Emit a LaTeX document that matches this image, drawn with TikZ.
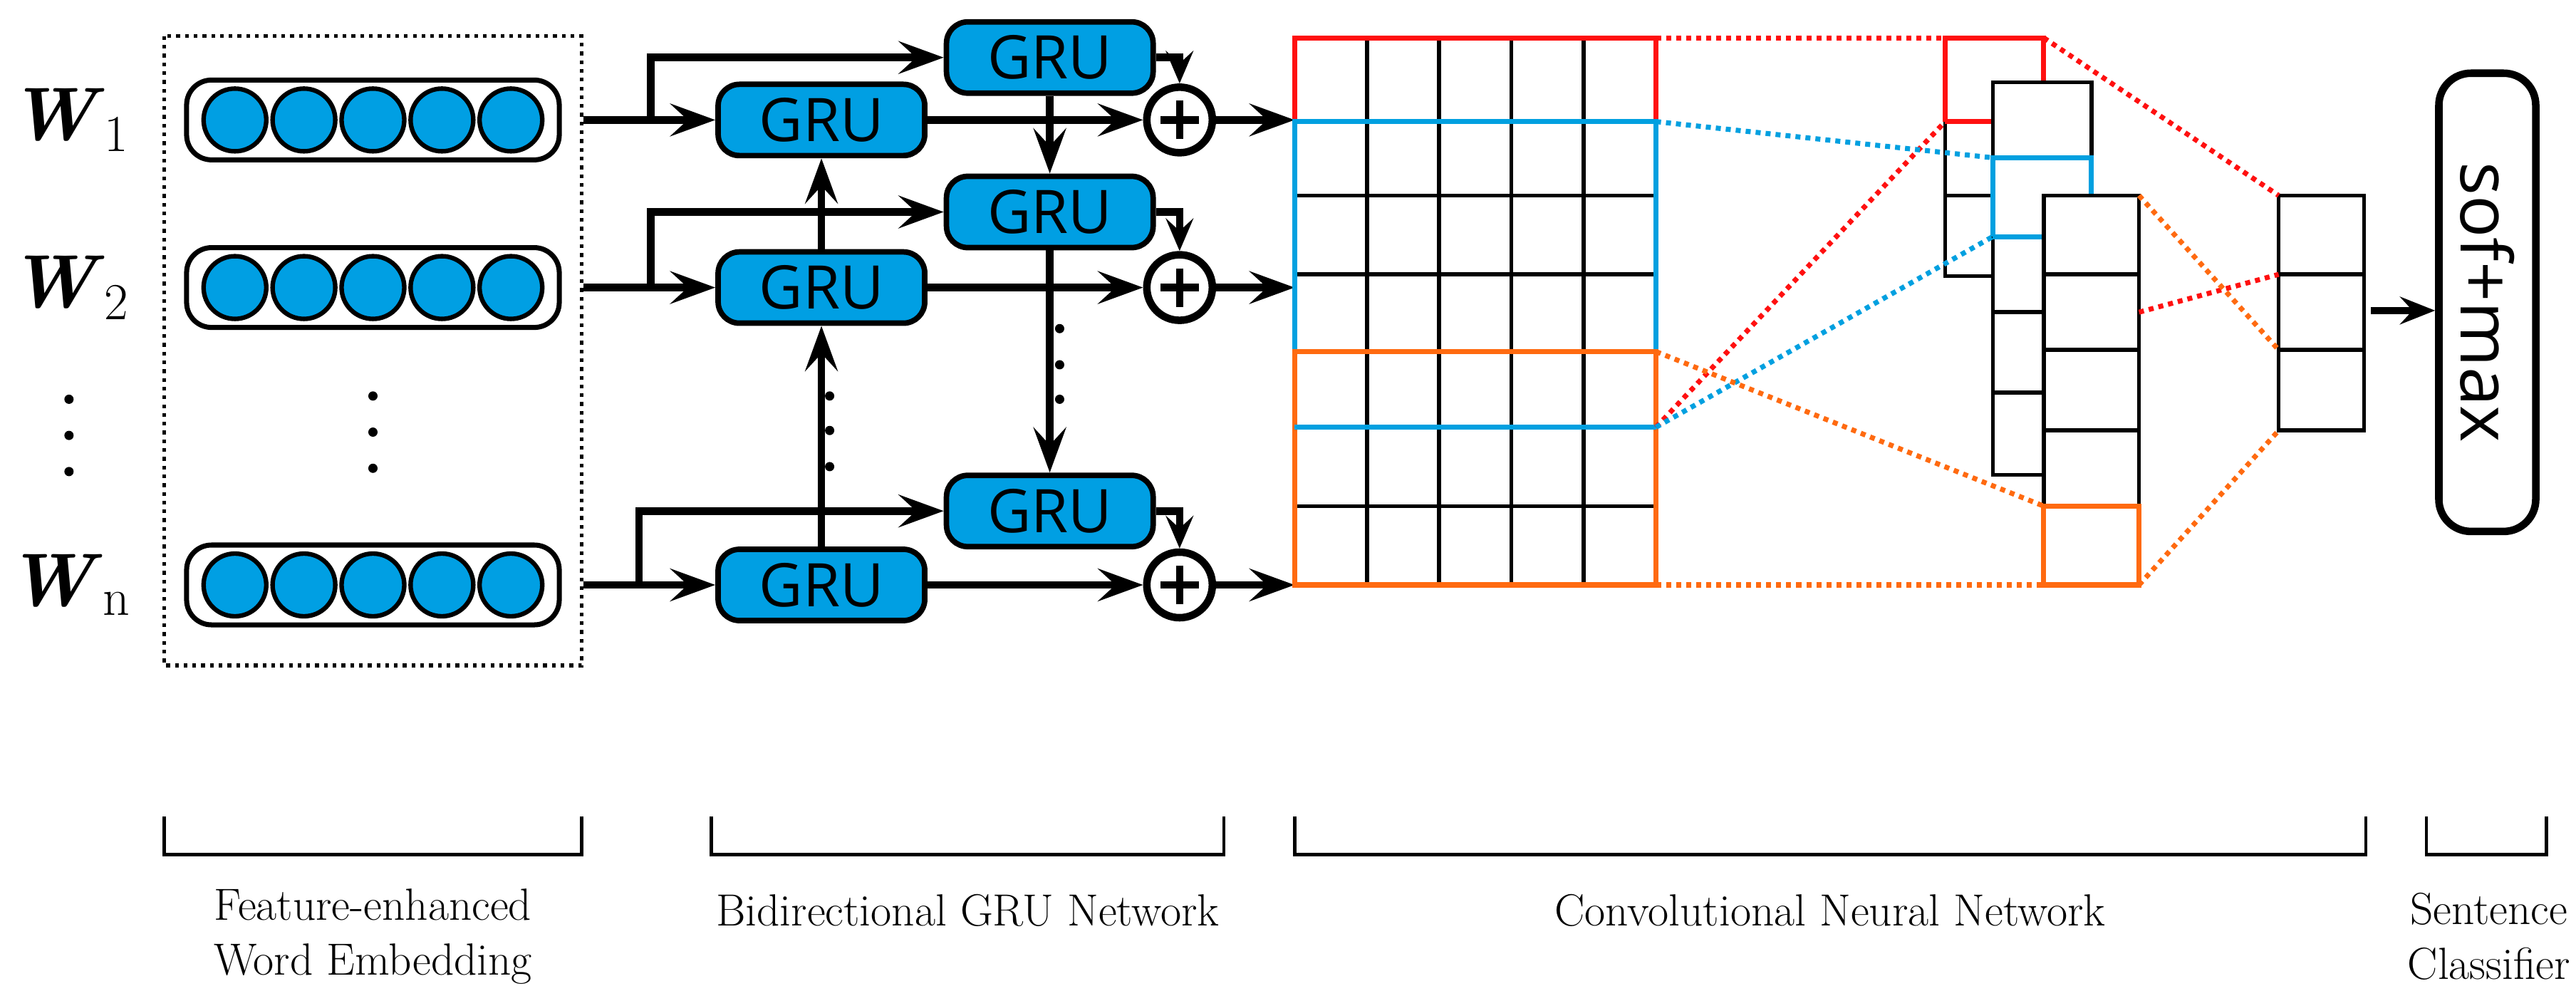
\documentclass[tikz,border=0pt]{standalone}
\usepackage{fontspec}
\newfontfamily\sansf{Open Sans}
\usetikzlibrary{arrows.meta}
\definecolor{cy}{HTML}{009FE3}
\definecolor{rd}{HTML}{FF1010}
\definecolor{bl}{HTML}{00A0E0}
\definecolor{og}{HTML}{FF6A10}
\begin{document}
\begin{tikzpicture}[x=0.02306cm,y=-0.02306cm,
 gru/.style={draw,line width=2.2pt,fill=cy,rounded corners=0.3cm,minimum width=2.9cm,minimum height=1cm,inner sep=0,font=\sansf\fontsize{24}{24}\selectfont},
 arr/.style={line width=3pt,-{Stealth[length=18pt,width=13pt,inset=7pt]}},
 arrs/.style={line width=3pt,-{Stealth[length=13pt,width=11pt,inset=5pt]}},
 pls/.style={circle,draw,line width=3pt,minimum size=0.92cm,inner sep=0,
   path picture={\draw[line width=3pt] ([xshift=-0.27cm]path picture bounding box.center) -- ([xshift=0.27cm]path picture bounding box.center);
   \draw[line width=3pt] ([yshift=-0.27cm]path picture bounding box.center) -- ([yshift=0.27cm]path picture bounding box.center);}},
 pill/.style={draw,line width=2pt,rounded corners=0.35cm,minimum width=5.23cm,minimum height=1.12cm,inner sep=0},
 ball/.style={circle,draw,line width=1.8pt,fill=cy,minimum size=0.88cm,inner sep=0},
 dot/.style={circle,fill,inner sep=0,minimum size=0.13cm},
 wl/.style={font=\fontsize{30}{30}\selectfont},
 grid/.style={line width=1.6pt},
 cl/.style={line width=2pt},
 dl/.style={line width=2pt,dotted},
 brk/.style={line width=1.3pt},
 lab/.style={font=\fontsize{18}{22}\selectfont,align=center}]
\useasboundingbox (0,0) rectangle (1568,609);
% word labels
\node[wl] (w1) at (42,73) {\textbf{\textit{W}}$_1$};
\node[wl] (w2) at (42,175) {\textbf{\textit{W}}$_2$};
\node[wl] (wn) at (42,356) {\textbf{\textit{W}}$_{\mathrm{n}}$};
\foreach \y [count=\i] in {243,265,287} \node[dot] (wd\i) at (42,\y) {};
% embedding
\draw[dotted,line width=1.5pt] (100,22) rectangle (354,405);
\foreach \n/\y in {1/73,2/175,3/356}{
  \node[pill] (e\n) at (227,\y) {};
  \foreach \x [count=\k] in {143,185,227,269,311} \node[ball] (e\n c\k) at (\x,\y) {};
}
\foreach \y [count=\i] in {241,263,285} \node[dot] (ed\i) at (227,\y) {};
% GRUs
\node[gru] (f1) at (500,73) {GRU};
\node[gru] (f2) at (500,175) {GRU};
\node[gru] (f3) at (500,356) {GRU};
\node[gru] (b1) at (639,35) {GRU};
\node[gru] (b2) at (639,129) {GRU};
\node[gru] (b3) at (639,311) {GRU};
\node[pls] (p1) at (718,73) {};
\node[pls] (p2) at (718,175) {};
\node[pls] (p3) at (718,356) {};
\coordinate (i1) at (355,73); \coordinate (i2) at (355,175); \coordinate (i3) at (355,356);
\coordinate (k1) at (396,73); \coordinate (k2) at (396,175); \coordinate (k3) at (389,356);
\coordinate (m1) at (788,73); \coordinate (m2) at (788,175); \coordinate (m3) at (788,356);
\foreach \n in {1,2,3}{
  \draw[arr] (i\n) -- (f\n.west);
  \draw[arr] (k\n) |- (b\n.west);
  \draw[arr] (f\n.east) -- (p\n.west);
  \draw[arrs] (b\n.east) -| (p\n.north);
  \draw[arr] (p\n.east) -- (m\n);
}
\draw[arr] (f3.north) -- (f2.south);
\draw[arr] (f2.north) -- (f1.south);
\draw[arr] (b1.south) -- (b2.north);
\draw[arr] (b2.south) -- (b3.north);
\foreach \y [count=\i] in {241,262,284} \node[dot] (fd\i) at (505,\y) {};
\foreach \y [count=\i] in {200,222,243} \node[dot] (bd\i) at (645,\y) {};
% CNN matrix
\foreach \y in {23,74,119,167,214,260,308,356} \draw[grid] (788,\y) -- (1008,\y);
\foreach \x in {788,832,876,920,964,1008} \draw[grid] (\x,23) -- (\x,356);
\draw[cl,rd] (788,74) -- (788,23) -- (1008,23) -- (1008,74);
\draw[cl,bl] (788,74) rectangle (1008,260);
\draw[cl,og] (788,214) rectangle (1008,356);
\draw[cl,bl] (788,260) -- (1008,260);
% feature maps
\draw[grid] (1184,23) rectangle (1244,168);
\draw[grid] (1184,74) -- (1213,74) (1184,119) -- (1213,119);
\draw[cl,rd] (1184,74) -- (1184,23) -- (1244,23) -- (1244,50);
\draw[cl,rd] (1184,74) -- (1213,74);
\draw[grid,fill=white] (1213,50) rectangle (1273,289);
\foreach \y in {96,144,190,239} \draw[grid] (1213,\y) -- (1273,\y);
\draw[cl,bl] (1213,144) -- (1213,96) -- (1273,96) -- (1273,119);
\draw[cl,bl] (1213,144) -- (1244,144);
\draw[grid,fill=white] (1244,119) rectangle (1302,356);
\foreach \y in {167,213,262,308} \draw[grid] (1244,\y) -- (1302,\y);
\draw[cl,og] (1244,308) rectangle (1302,356);
% pooled
\draw[grid] (1387,119) rectangle (1439,262);
\draw[grid] (1387,167) -- (1439,167) (1387,213) -- (1439,213);
% dotted connectors
\draw[dl,rd] (1008,23) -- (1184,23);
\draw[dl,rd] (1008,260) -- (1184,74);
\draw[dl,rd] (1244,23) -- (1387,119);
\draw[dl,rd] (1302,190) -- (1387,167);
\draw[dl,bl] (1008,74) -- (1213,96);
\draw[dl,bl] (1008,260) -- (1213,144);
\draw[dl,og] (1008,214) -- (1244,308);
\draw[dl,og] (1008,356) -- (1244,356);
\draw[dl,og] (1302,119) -- (1387,213);
\draw[dl,og] (1302,356) -- (1387,262);
% softmax
\node[draw,line width=3pt,rounded corners=0.45cm,minimum width=6.43cm,minimum height=1.36cm,rotate=-90,inner sep=0,font=\sansf\fontsize{28}{28}\selectfont] (sm) at (1514,184) {sof+max};
\coordinate (pv) at (1443,189);
\draw[line width=3pt,-{Stealth[length=14pt,width=11pt,inset=5pt]}] (pv) -- (pv -| sm.south);
% brackets
\draw[brk] (100,497) -- (100,520) -- (354,520) -- (354,497);
\draw[brk] (433,497) -- (433,520) -- (745,520) -- (745,497);
\draw[brk] (788,497) -- (788,520) -- (1440,520) -- (1440,497);
\draw[brk] (1477,497) -- (1477,520) -- (1550,520) -- (1550,497);
\node[lab] (l1) at (227,570) {Feature-enhanced\\Word Embedding};
\node[lab] (l2) at (589,554) {Bidirectional GRU Network};
\node[lab] (l3) at (1114,554) {Convolutional Neural Network};
\node[lab] (l4) at (1515,570) {Sentence\\Classifier};
\end{tikzpicture}
\end{document}
